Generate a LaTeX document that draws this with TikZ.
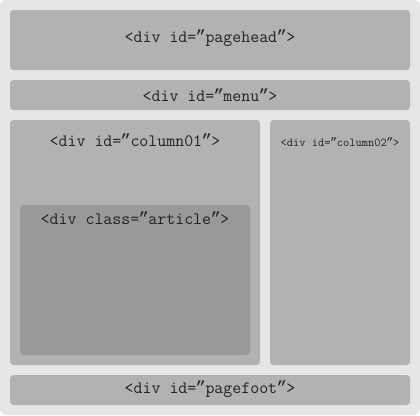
\documentclass[tikz,border=0pt]{standalone}
\usepackage{fontspec}
\newfontfamily\quotefont{Liberation Mono}
\newcommand{\myq}{\makebox[0.525em]{\quotefont ”}}
\begin{document}
\begin{tikzpicture}[x=1pt,y=-1pt,
  box/.style={fill=boxgray,draw=none,rounded corners=3.5pt},
  lbl/.style={font=\ttfamily\fontsize{17.4}{20}\selectfont,text=txtgray,inner sep=0pt},
  small/.style={font=\ttfamily\fontsize{12.1}{14}\selectfont,text=txtgray,inner sep=0pt}]
\definecolor{bggray}{HTML}{E6E6E6}
\definecolor{boxgray}{HTML}{B2B2B2}
\definecolor{artgray}{HTML}{999999}
\definecolor{txtgray}{HTML}{222222}
\useasboundingbox (0,0) rectangle (420,415);
\fill[bggray,rounded corners=6pt] (0,0) rectangle (420,415);
\fill[box] (10,10) rectangle (410,70);
\node[lbl] (head) at (210,38.5) {<div id=\myq pagehead\myq>};
\fill[box] (10,80) rectangle (410,110);
\node[lbl] (menu) at (210,95) {<div id=\myq menu\myq>};
\fill[box] (10,120) rectangle (260,365);
\node[lbl] (col1) at (135,140.5) {<div id=\myq column01\myq>};
\fill[box] (270,120) rectangle (410,365);
\node[small] (col2) at (340,142.5) {<div id=\myq column02\myq>};
\fill[fill=artgray,rounded corners=3.5pt] (20,205) rectangle (250,355);
\node[lbl] (art) at (135,218) {<div class=\myq article\myq>};
\fill[box] (10,375) rectangle (410,405);
\node[lbl] (foot) at (210,389) {<div id=\myq pagefoot\myq>};
\end{tikzpicture}
\end{document}
